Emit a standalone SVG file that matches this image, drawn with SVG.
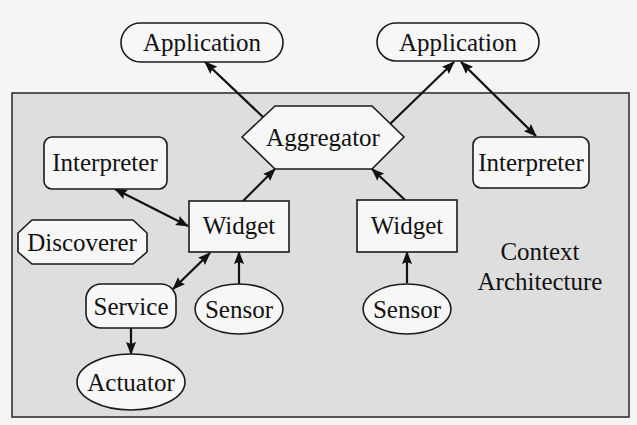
<svg xmlns="http://www.w3.org/2000/svg" width="637" height="425" viewBox="0 0 637 425">
<defs>
<marker id="ah" markerUnits="userSpaceOnUse" markerWidth="13" markerHeight="11" refX="12" refY="5.5" orient="auto-start-reverse" viewBox="0 0 13 11">
<path d="M0,0.5 L13,5.5 L0,10.5 L2,5.5 z" fill="#111"/>
</marker>
</defs>
<style>
.n{fill:#f7f7f7;stroke:#1a1a1a;stroke-width:1.6}
.t{font-family:"Liberation Serif","Times New Roman",serif;font-size:25px;fill:#111;text-anchor:middle}
.c{stroke:#111;stroke-width:2.2;fill:none;marker-end:url(#ah)}
.b{marker-start:url(#ah)}
</style>
<rect x="0" y="0" width="637" height="425" fill="#f5f5f5"/>
<rect id="context" x="12" y="93" width="617" height="324" fill="#dedede" stroke="#333" stroke-width="1.6"/>
<g id="connectors">
<line class="c" x1="263" y1="117" x2="205" y2="62"/>
<line class="c" x1="390" y1="124" x2="454" y2="62"/>
<line class="c b" x1="461" y1="62" x2="536" y2="136"/>
<line class="c" x1="243" y1="201" x2="275" y2="169"/>
<line class="c" x1="405" y1="200" x2="372" y2="169"/>
<line class="c b" x1="115" y1="189" x2="188" y2="226"/>
<line class="c b" x1="173" y1="289" x2="210" y2="253"/>
<line class="c" x1="239" y1="284" x2="239" y2="252"/>
<line class="c" x1="407" y1="283" x2="407" y2="252"/>
<line class="c" x1="131" y1="328" x2="131" y2="354"/>
</g>
<g id="app1"><rect class="n" x="121" y="23" width="162" height="39" rx="19.5"/><text class="t" x="202" y="51">Application</text></g>
<g id="app2"><rect class="n" x="377" y="23" width="162" height="38" rx="19"/><text class="t" x="458" y="51">Application</text></g>
<g id="aggregator"><polygon class="n" points="242,137 275,106 372,106 404,137 372,169 275,169"/><text class="t" x="323" y="146">Aggregator</text></g>
<g id="interp1"><rect class="n" x="44" y="137" width="123" height="52" rx="8"/><text class="t" x="105" y="171">Interpreter</text></g>
<g id="interp2"><rect class="n" x="473" y="137" width="116" height="51" rx="8"/><text class="t" x="531" y="171">Interpreter</text></g>
<g id="widget1"><rect class="n" x="189" y="201" width="100" height="51"/><text class="t" x="239" y="234">Widget</text></g>
<g id="widget2"><rect class="n" x="357" y="200" width="100" height="52"/><text class="t" x="407" y="234">Widget</text></g>
<g id="discoverer"><polygon class="n" points="32,220 133,220 147,233 147,252 133,264 32,264 18,252 18,233"/><text class="t" x="82" y="251">Discoverer</text></g>
<g id="service"><rect class="n" x="86" y="284" width="90" height="44" rx="15"/><text class="t" x="131" y="315">Service</text></g>
<g id="sensor1"><ellipse class="n" cx="239" cy="309" rx="44" ry="25"/><text class="t" x="239" y="318">Sensor</text></g>
<g id="sensor2"><ellipse class="n" cx="407" cy="309" rx="44" ry="25"/><text class="t" x="407" y="318">Sensor</text></g>
<g id="actuator"><ellipse class="n" cx="131" cy="382" rx="54" ry="28"/><text class="t" x="131" y="391">Actuator</text></g>
<g id="label"><text class="t" x="540" y="260">Context</text><text class="t" x="540" y="290">Architecture</text></g>
</svg>
